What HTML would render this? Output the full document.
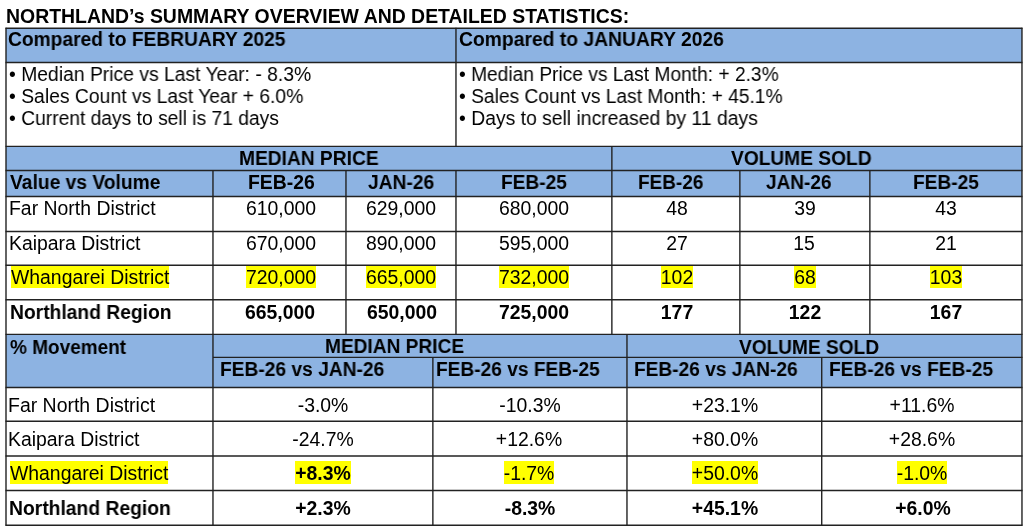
<!DOCTYPE html>
<html><head><meta charset="utf-8"><style>
html,body{margin:0;padding:0;background:#fff;width:1030px;height:532px;overflow:hidden}
body{position:relative;font-family:"Liberation Sans",sans-serif;color:#000}
div{position:absolute}
.t{-webkit-font-smoothing:antialiased;will-change:transform;font-size:19.4px;line-height:22px;white-space:pre;transform-origin:0 0}
.hl{background:#ffff00;padding-top:1px}
</style></head><body>
<div style="left:6.0px;top:28.27px;width:1015.97px;height:34.3px;background:#8db3e2"></div>
<div style="left:6.0px;top:146.4px;width:1015.97px;height:50.16999999999999px;background:#8db3e2"></div>
<div style="left:6.0px;top:334.4px;width:1015.97px;height:53.170000000000016px;background:#8db3e2"></div>
<div class="t" style="left:6.40px;top:5px;font-weight:bold;transform:scaleX(1.0019);">NORTHLAND’s SUMMARY OVERVIEW AND DETAILED STATISTICS:</div>
<div class="t" style="left:8.40px;top:28px;font-weight:bold;transform:scaleX(0.9907);">Compared to FEBRUARY 2025</div>
<div class="t" style="left:458.60px;top:28px;font-weight:bold;transform:scaleX(0.9955);">Compared to JANUARY 2026</div>
<div class="t" style="left:9.00px;top:63px;transform:scaleX(0.9967);">• Median Price vs Last Year: - 8.3%</div>
<div class="t" style="left:459.20px;top:63px;transform:scaleX(0.9891);">• Median Price vs Last Month: + 2.3%</div>
<div class="t" style="left:9.00px;top:85px;transform:scaleX(0.9973);">• Sales Count vs Last Year + 6.0%</div>
<div class="t" style="left:459.20px;top:85px;transform:scaleX(0.9914);">• Sales Count vs Last Month: + 45.1%</div>
<div class="t" style="left:9.00px;top:107px;transform:scaleX(0.9926);">• Current days to sell is 71 days</div>
<div class="t" style="left:459.20px;top:107px;transform:scaleX(0.9973);">• Days to sell increased by 11 days</div>
<div class="t" style="left:239.40px;top:147px;font-weight:bold;transform:scaleX(0.9892);">MEDIAN PRICE</div>
<div class="t" style="left:730.80px;top:147px;font-weight:bold;transform:scaleX(0.9888);">VOLUME SOLD</div>
<div class="t" style="left:10.40px;top:171px;font-weight:bold;transform:scaleX(0.9927);">Value vs Volume</div>
<div class="t" style="left:248.00px;top:171px;font-weight:bold;">FEB-26</div>
<div class="t" style="left:368.00px;top:171px;font-weight:bold;transform:scaleX(0.9909);">JAN-26</div>
<div class="t" style="left:500.80px;top:171px;font-weight:bold;transform:scaleX(0.9865);">FEB-25</div>
<div class="t" style="left:637.80px;top:171px;font-weight:bold;transform:scaleX(0.9786);">FEB-26</div>
<div class="t" style="left:766.00px;top:171px;font-weight:bold;transform:scaleX(0.9803);">JAN-26</div>
<div class="t" style="left:913.00px;top:171px;font-weight:bold;transform:scaleX(0.9865);">FEB-25</div>
<div class="t" style="left:8.60px;top:197px;transform:scaleX(1.0014);">Far North District</div>
<div class="t" style="left:80.90px;width:400px;text-align:center;top:197px;">610,000</div>
<div class="t" style="left:201.30px;width:400px;text-align:center;top:197px;">629,000</div>
<div class="t" style="left:333.60px;width:400px;text-align:center;top:197px;">680,000</div>
<div class="t" style="left:477.00px;width:400px;text-align:center;top:197px;">48</div>
<div class="t" style="left:605.00px;width:400px;text-align:center;top:197px;">39</div>
<div class="t" style="left:746.00px;width:400px;text-align:center;top:197px;">43</div>
<div class="t" style="left:8.60px;top:232px;transform:scaleX(0.9977);">Kaipara District</div>
<div class="t" style="left:80.90px;width:400px;text-align:center;top:232px;">670,000</div>
<div class="t" style="left:201.30px;width:400px;text-align:center;top:232px;">890,000</div>
<div class="t" style="left:333.60px;width:400px;text-align:center;top:232px;">595,000</div>
<div class="t" style="left:477.00px;width:400px;text-align:center;top:232px;">27</div>
<div class="t" style="left:604.00px;width:400px;text-align:center;top:232px;">15</div>
<div class="t" style="left:746.00px;width:400px;text-align:center;top:232px;">21</div>
<div class="t" style="left:10.60px;top:266px;"><span class="hl">Whangarei District</span></div>
<div class="t" style="left:80.90px;width:400px;text-align:center;top:266px;"><span class="hl">720,000</span></div>
<div class="t" style="left:201.30px;width:400px;text-align:center;top:266px;"><span class="hl">665,000</span></div>
<div class="t" style="left:333.60px;width:400px;text-align:center;top:266px;"><span class="hl">732,000</span></div>
<div class="t" style="left:476.50px;width:400px;text-align:center;top:266px;"><span class="hl">102</span></div>
<div class="t" style="left:605.00px;width:400px;text-align:center;top:266px;"><span class="hl">68</span></div>
<div class="t" style="left:745.50px;width:400px;text-align:center;top:266px;"><span class="hl">103</span></div>
<div class="t" style="left:9.60px;top:301px;font-weight:bold;transform:scaleX(0.9931);">Northland Region</div>
<div class="t" style="left:80.40px;width:400px;text-align:center;top:301px;font-weight:bold;">665,000</div>
<div class="t" style="left:201.80px;width:400px;text-align:center;top:301px;font-weight:bold;">650,000</div>
<div class="t" style="left:333.60px;width:400px;text-align:center;top:301px;font-weight:bold;">725,000</div>
<div class="t" style="left:477.00px;width:400px;text-align:center;top:301px;font-weight:bold;">177</div>
<div class="t" style="left:605.00px;width:400px;text-align:center;top:301px;font-weight:bold;">122</div>
<div class="t" style="left:746.00px;width:400px;text-align:center;top:301px;font-weight:bold;">167</div>
<div class="t" style="left:9.80px;top:336px;font-weight:bold;transform:scaleX(0.9790);">% Movement</div>
<div class="t" style="left:325.00px;top:335px;font-weight:bold;transform:scaleX(0.9857);">MEDIAN PRICE</div>
<div class="t" style="left:739.00px;top:336px;font-weight:bold;transform:scaleX(0.9851);">VOLUME SOLD</div>
<div class="t" style="left:220.40px;top:358px;font-weight:bold;transform:scaleX(0.9891);">FEB-26 vs JAN-26</div>
<div class="t" style="left:435.80px;top:358px;font-weight:bold;transform:scaleX(0.9860);">FEB-26 vs FEB-25</div>
<div class="t" style="left:634.00px;top:358px;font-weight:bold;transform:scaleX(0.9855);">FEB-26 vs JAN-26</div>
<div class="t" style="left:828.80px;top:358px;font-weight:bold;transform:scaleX(0.9884);">FEB-26 vs FEB-25</div>
<div class="t" style="left:8.20px;top:394px;transform:scaleX(1.0035);">Far North District</div>
<div class="t" style="left:122.50px;width:400px;text-align:center;top:394px;">-3.0%</div>
<div class="t" style="left:330.20px;width:400px;text-align:center;top:394px;">-10.3%</div>
<div class="t" style="left:524.90px;width:400px;text-align:center;top:394px;">+23.1%</div>
<div class="t" style="left:722.40px;width:400px;text-align:center;top:394px;">+11.6%</div>
<div class="t" style="left:8.20px;top:428px;">Kaipara District</div>
<div class="t" style="left:123.00px;width:400px;text-align:center;top:428px;">-24.7%</div>
<div class="t" style="left:329.20px;width:400px;text-align:center;top:428px;">+12.6%</div>
<div class="t" style="left:524.90px;width:400px;text-align:center;top:428px;">+80.0%</div>
<div class="t" style="left:721.90px;width:400px;text-align:center;top:428px;">+28.6%</div>
<div class="t" style="left:10.20px;top:462px;"><span class="hl">Whangarei District</span></div>
<div class="t" style="left:123.00px;width:400px;text-align:center;top:462px;font-weight:bold;"><span class="hl">+8.3%</span></div>
<div class="t" style="left:329.20px;width:400px;text-align:center;top:462px;"><span class="hl">-1.7%</span></div>
<div class="t" style="left:524.90px;width:400px;text-align:center;top:462px;"><span class="hl">+50.0%</span></div>
<div class="t" style="left:721.90px;width:400px;text-align:center;top:462px;"><span class="hl">-1.0%</span></div>
<div class="t" style="left:9.20px;top:497px;font-weight:bold;transform:scaleX(0.9950);">Northland Region</div>
<div class="t" style="left:123.00px;width:400px;text-align:center;top:497px;font-weight:bold;">+2.3%</div>
<div class="t" style="left:329.70px;width:400px;text-align:center;top:497px;font-weight:bold;">-8.3%</div>
<div class="t" style="left:524.90px;width:400px;text-align:center;top:497px;font-weight:bold;">+45.1%</div>
<div class="t" style="left:722.90px;width:400px;text-align:center;top:497px;font-weight:bold;">+6.0%</div>
<svg width="1030" height="532" style="position:absolute;left:0;top:0" stroke="#222" stroke-width="1.4"><line x1="5.5" y1="28.27" x2="1022.47" y2="28.27"/><line x1="5.5" y1="62.57" x2="1022.47" y2="62.57"/><line x1="5.5" y1="146.4" x2="1022.47" y2="146.4"/><line x1="5.5" y1="170.57" x2="1022.47" y2="170.57"/><line x1="5.5" y1="196.57" x2="1022.47" y2="196.57"/><line x1="5.5" y1="231.5" x2="1022.47" y2="231.5"/><line x1="5.5" y1="265.3" x2="1022.47" y2="265.3"/><line x1="5.5" y1="299.82" x2="1022.47" y2="299.82"/><line x1="5.5" y1="334.4" x2="1022.47" y2="334.4"/><line x1="5.5" y1="387.57" x2="1022.47" y2="387.57"/><line x1="5.5" y1="421.27" x2="1022.47" y2="421.27"/><line x1="5.5" y1="455.97" x2="1022.47" y2="455.97"/><line x1="5.5" y1="490.57" x2="1022.47" y2="490.57"/><line x1="5.5" y1="525.3" x2="1022.47" y2="525.3"/><line x1="212.97" y1="357.4" x2="1022.47" y2="357.4"/><line x1="6.0" y1="27.77" x2="6.0" y2="525.8"/><line x1="1021.97" y1="27.77" x2="1021.97" y2="525.8"/><line x1="455.97" y1="27.77" x2="455.97" y2="146.9"/><line x1="212.97" y1="170.07" x2="212.97" y2="334.9"/><line x1="345.97" y1="170.07" x2="345.97" y2="334.9"/><line x1="455.97" y1="170.07" x2="455.97" y2="334.9"/><line x1="739.87" y1="170.07" x2="739.87" y2="334.9"/><line x1="869.87" y1="170.07" x2="869.87" y2="334.9"/><line x1="611.87" y1="145.9" x2="611.87" y2="334.9"/><line x1="212.97" y1="333.9" x2="212.97" y2="525.8"/><line x1="626.97" y1="333.9" x2="626.97" y2="525.8"/><line x1="432.87" y1="356.9" x2="432.87" y2="525.8"/><line x1="821.72" y1="356.9" x2="821.72" y2="525.8"/></svg>
</body></html>
